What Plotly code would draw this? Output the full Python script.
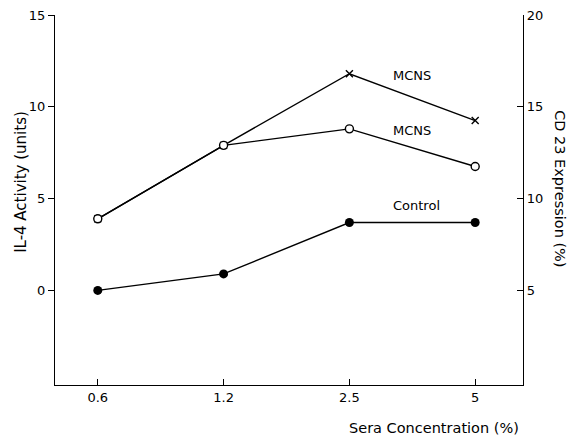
import plotly.graph_objects as go

concentrations = ["0.6", "1.2", "2.5", "5"]
control = [0.0, 0.9, 3.7, 3.7]
mcns_open = [3.9, 7.9, 8.8, 6.75]
mcns_x = [3.9, 7.9, 11.8, 9.25]

left_ticks = [0, 5, 10, 15]
right_ticks = [5, 10, 15, 20]

FONT = "DejaVu Sans"
line = dict(color="black", width=1.4)

fig = go.Figure()
fig.add_trace(go.Scatter(x=concentrations, y=mcns_x, mode="lines+markers", line=line,
                         marker=dict(symbol="x-thin-open", size=7, color="black",
                                     line=dict(color="black", width=1.4)),
                         showlegend=False))
fig.add_trace(go.Scatter(x=concentrations, y=mcns_open, mode="lines+markers", line=line,
                         marker=dict(symbol="circle", size=8, color="white",
                                     line=dict(color="black", width=1.4)),
                         showlegend=False))
fig.add_trace(go.Scatter(x=concentrations, y=control, mode="lines+markers", line=line,
                         marker=dict(symbol="circle", size=9, color="black"),
                         showlegend=False))
# invisible trace to activate right axis
fig.add_trace(go.Scatter(x=concentrations, y=[v + 5 for v in control], yaxis="y2",
                         mode="lines", line=dict(width=0), hoverinfo="skip",
                         showlegend=False, opacity=0))

fig.update_layout(
    width=576, height=433,
    margin=dict(l=47, r=61, t=7, b=56),
    paper_bgcolor="white", plot_bgcolor="white",
    font=dict(family=FONT, color="black", size=13),
    xaxis=dict(type="category", range=[-0.34, 3.38], showline=True, linecolor="black",
               linewidth=1.4, ticks="inside", ticklen=6, tickcolor="black",
               showgrid=False, zeroline=False, tickfont=dict(size=13), automargin=False),
    yaxis=dict(range=[-5.15, 15], tickvals=left_ticks, showline=True, linecolor="black",
               linewidth=1.4, ticks="outside", ticklen=6, tickcolor="black",
               showgrid=False, zeroline=False, tickfont=dict(size=13), automargin=False,
               ticklabeloverflow="allow"),
    yaxis2=dict(range=[-0.15, 20], tickvals=right_ticks, overlaying="y", side="right",
                showline=True, linecolor="black", linewidth=1.4, ticks="inside",
                ticklen=6, tickcolor="black", showgrid=False, zeroline=False,
                tickfont=dict(size=13), automargin=False, ticklabeloverflow="allow"),
)

fig.add_annotation(text="IL-4 Activity (units)", textangle=-90, xref="paper", yref="paper",
                   x=0, xshift=-34, y=0.549, xanchor="center", yanchor="middle",
                   showarrow=False, font=dict(size=15))
fig.add_annotation(text="CD 23 Expression (%)", textangle=90, xref="paper", yref="paper",
                   x=1.0, xshift=37, y=0.532, xanchor="center", yanchor="middle",
                   showarrow=False, font=dict(size=14.5))
fig.add_annotation(text="Sera Concentration (%)", xref="paper", yref="paper",
                   x=0.81, y=0, yshift=-43, xanchor="center", yanchor="middle",
                   showarrow=False, font=dict(size=14.5))
fig.add_annotation(text="MCNS", x=2.5, y=11.7, showarrow=False, font=dict(size=13))
fig.add_annotation(text="MCNS", x=2.5, y=8.7, showarrow=False, font=dict(size=13))
fig.add_annotation(text="Control", x=2.53, y=4.6, showarrow=False, font=dict(size=13))

fig.write_html("out.html")
